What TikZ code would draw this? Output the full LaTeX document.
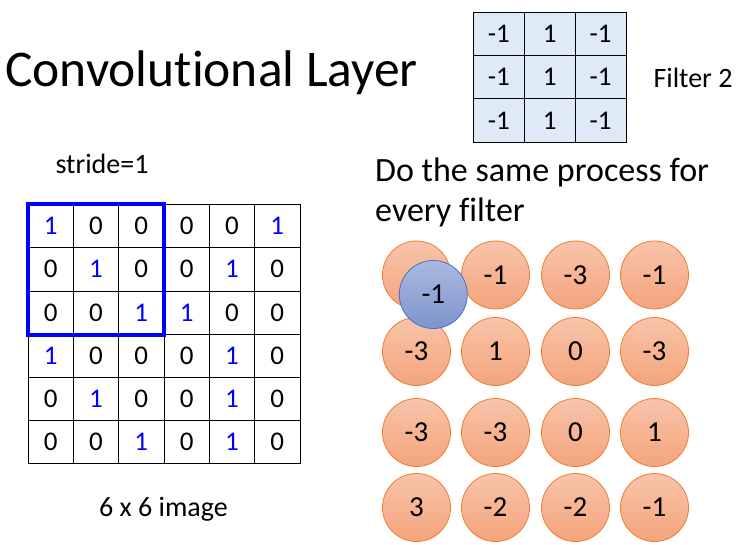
\documentclass[tikz,border=0pt]{standalone}
\usepackage{fontspec}
\setmainfont[Ligatures=NoCommon]{Carlito}
\definecolor{gblue}{RGB}{0,0,255}
\definecolor{fcell}{RGB}{222,235,247}
\definecolor{otop}{RGB}{248,196,170}
\definecolor{obot}{RGB}{244,164,124}
\definecolor{oline}{RGB}{237,125,49}
\definecolor{btop}{RGB}{170,185,225}
\definecolor{bbot}{RGB}{125,148,205}
\definecolor{bline}{RGB}{68,114,196}
\tikzset{
  gcell/.style={draw=black,line width=0.8pt,minimum width=45.33pt,minimum height=43.2pt,inner sep=0pt,font=\fontsize{27}{32}\selectfont},
  fcellst/.style={draw=black,line width=0.8pt,fill=fcell,minimum width=50.9pt,minimum height=43.3pt,inner sep=0pt,font=\fontsize{27}{32}\selectfont},
  ocirc/.style={circle,draw=oline,line width=0.8pt,top color=otop,bottom color=obot,minimum size=68pt,inner sep=0pt,font=\fontsize{29}{34}\selectfont},
  bcirc/.style={circle,draw=bline,line width=0.8pt,top color=btop,bottom color=bbot,minimum size=68pt,inner sep=0pt,font=\fontsize{29}{34}\selectfont},
  lbl/.style={inner sep=0pt,anchor=base},
  small/.style={font=\fontsize{28}{34}\selectfont}
}
\begin{document}
\begin{tikzpicture}[x=1pt,y=-1pt]
\useasboundingbox (0,0) rectangle (741,545);
\node[lbl,anchor=base west,font=\fontsize{51.5}{60}\selectfont] (title) at (5,87) {Convolutional Layer};
% filter
\foreach \r/\a/\b/\c in {1/-1/1/-1,2/-1/1/-1,3/-1/1/-1}{
  \node[fcellst] (f\r1) at ({473.3+50.9*0.5},{12.3+43.3*(\r-0.5)}) {\a};
  \node[fcellst] (f\r2) at ({473.3+50.9*1.5},{12.3+43.3*(\r-0.5)}) {\b};
  \node[fcellst] (f\r3) at ({473.3+50.9*2.5},{12.3+43.3*(\r-0.5)}) {\c};
}
\node[lbl,small] (fl) at (693,88) {Filter 2};
\node[lbl,small] (stride) at (102,173.3) {stride=1};
\node[lbl,anchor=base west,font=\fontsize{34}{40}\selectfont] (do1) at (375,181.7) {Do the same process for};
\node[lbl,anchor=base west,font=\fontsize{34}{40}\selectfont] (do2) at (375,221.7) {every filter};
% grid
\foreach \r/\row in {1/{1,0,0,0,0,1},2/{0,1,0,0,1,0},3/{0,0,1,1,0,0},4/{1,0,0,0,1,0},5/{0,1,0,0,1,0},6/{0,0,1,0,1,0}}{
  \foreach \v [count=\c] in \row {
    \ifnum\v=1
      \node[gcell,text=gblue] (g\r\c) at ({28+45.33*(\c-0.5)},{204.5+43.2*(\r-0.5)}) {\v};
    \else
      \node[gcell] (g\r\c) at ({28+45.33*(\c-0.5)},{204.5+43.2*(\r-0.5)}) {\v};
    \fi
  }
}
\draw[gblue,line width=4pt] (g11.north west) rectangle (g33.south east);
\node[lbl,small] (img) at (163.5,516.7) {6 x 6 image};
% circles
\node[ocirc] (c11) at (416.5,275) {};
\foreach \r/\y/\a/\b/\c/\d in {1/275/x/-1/-3/-1,2/351.5/-3/1/0/-3,3/432.5/-3/-3/0/1,4/507.5/3/-2/-2/-1}{
  \ifnum\r>1 \node[ocirc] (c\r1) at (416.5,\y) {\a}; \fi
  \node[ocirc] (c\r2) at (495.5,\y) {\b};
  \node[ocirc] (c\r3) at (575.5,\y) {\c};
  \node[ocirc] (c\r4) at (654.5,\y) {\d};
}
\node[bcirc] (bc) at (433.3,294.5) {-1};
\end{tikzpicture}
\end{document}
